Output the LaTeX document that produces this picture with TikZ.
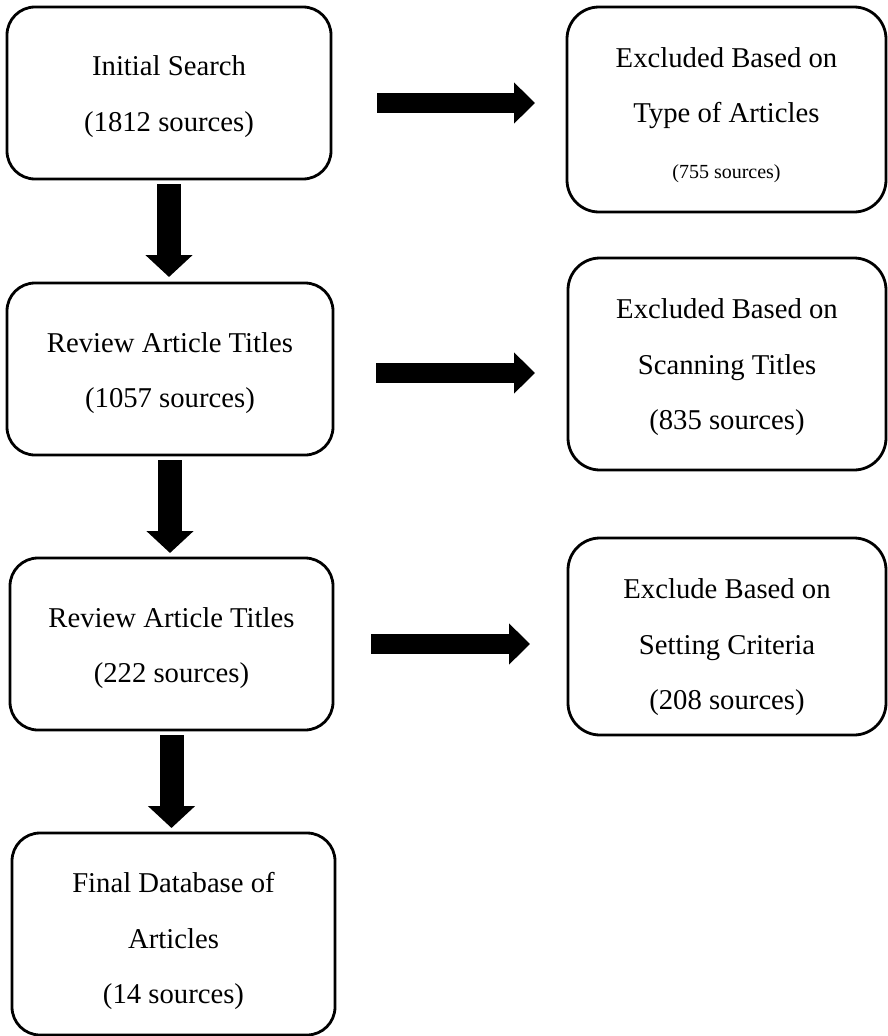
\documentclass[tikz,border=0pt]{standalone}
\usepackage{fontspec}
\setmainfont{Liberation Serif}
\usetikzlibrary{arrows.meta}
\tikzset{
  tbox/.style={draw, line width=2.8pt, rounded corners=28pt, align=center,
    inner sep=0pt, outer sep=0pt, anchor=north west, text depth=5.2pt,
    font=\fontsize{28.7}{55.5}\selectfont},
  rbox/.style={tbox, rounded corners=32pt},
  darrow/.style={line width=24pt, -{Triangle[width=46pt,length=22pt]}},
  harrow/.style={line width=20pt, -{Triangle[width=40pt,length=21pt]}}
}
\begin{document}
\begin{tikzpicture}[x=1pt,y=1pt]
\useasboundingbox (0,0) rectangle (888,-1036);
\node[tbox, minimum width=324pt, minimum height=172pt, text height=81.7pt] (B1) at (7,-7)
  {Initial Search\\(1812 sources)};
\node[tbox, minimum width=326pt, minimum height=172pt, text height=82.7pt] (B2) at (7,-283)
  {Review Article Titles\\(1057 sources)};
\node[tbox, minimum width=323pt, minimum height=172pt, text height=82.7pt] (B3) at (10,-558)
  {Review Article Titles\\(222 sources)};
\node[tbox, minimum width=323pt, minimum height=202pt, text height=144.2pt] (B4) at (12,-833)
  {Final Database of\\Articles\\(14 sources)};
\node[rbox, minimum width=319pt, minimum height=205pt, text height=140.6pt, text depth=3.6pt] (R1) at (567,-7)
  {Excluded Based on\\Type of Articles\\{\fontsize{20}{24}\selectfont (755 sources)}};
\node[rbox, minimum width=318pt, minimum height=212pt, text height=136.2pt] (R2) at (568,-258)
  {Excluded Based on\\Scanning Titles\\(835 sources)};
\node[rbox, minimum width=318pt, minimum height=197pt, text height=151.2pt] (R3) at (568,-538)
  {Exclude Based on\\Setting Criteria\\(208 sources)};
% down arrows
\draw[darrow, shorten <=5pt, shorten >=6pt] (B1.south) -- (B1.south |- B2.north);
\draw[darrow, shorten <=5pt, shorten >=5pt] (B2.south) -- (B2.south |- B3.north);
\draw[darrow, shorten <=5pt, shorten >=5pt] (B3.south) -- (B3.south |- B4.north);
% right arrows
\coordinate (h1) at ([yshift=-10pt]B1.east);
\coordinate (h2) at ([yshift=-4pt]B2.east);
\coordinate (h3) at (B3.east);
\draw[harrow, shorten <=46pt, shorten >=32pt] (h1) -- (h1 -| R1.west);
\draw[harrow, shorten <=43pt, shorten >=33pt] (h2) -- (h2 -| R2.west);
\draw[harrow, shorten <=38pt, shorten >=38pt] (h3) -- (h3 -| R3.west);
\end{tikzpicture}
\end{document}
